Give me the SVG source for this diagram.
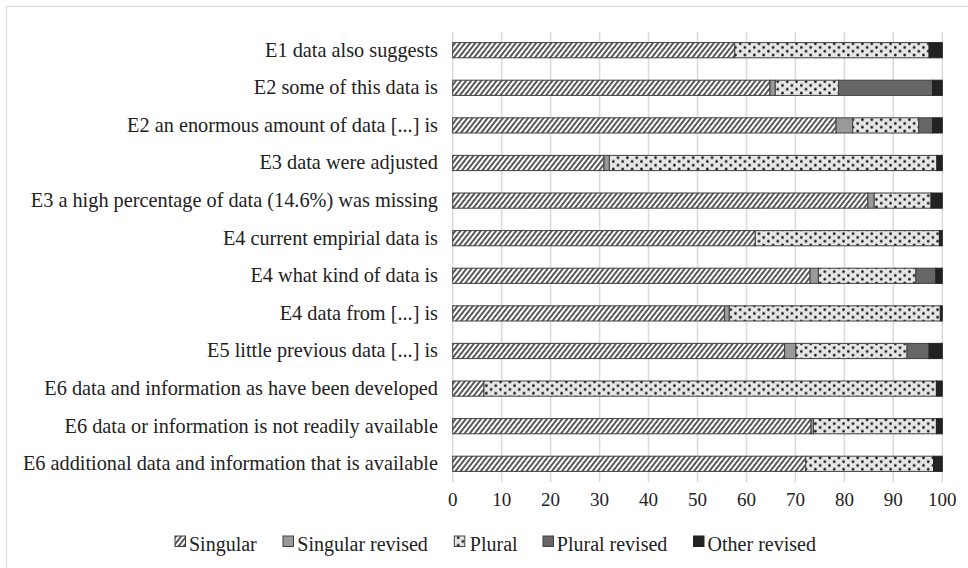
<svg xmlns="http://www.w3.org/2000/svg" width="968" height="568" viewBox="0 0 968 568">
<style>
text{font-family:"Liberation Serif","Times New Roman",serif;fill:#222;}
.lbl{font-size:20.3px;text-anchor:end;}
.ax{font-size:19px;text-anchor:middle;}
.lg{font-size:20px;}
.grid line{stroke:#d9d9d9;stroke-width:1.5;}
.s{fill:url(#hatch);stroke:#404040;stroke-width:1;}
.sr{fill:#999;stroke:#404040;stroke-width:1;}
.p{fill:url(#dots);stroke:#404040;stroke-width:1;}
.pr{fill:#666;stroke:#404040;stroke-width:1;}
.o{fill:#222;stroke:#222;stroke-width:1;}
</style>
<defs>
<pattern id="hatch" patternUnits="userSpaceOnUse" width="4" height="8" patternTransform="rotate(38)">
<rect width="4" height="8" fill="#fff"/>
<line x1="1" y1="0" x2="1" y2="8" stroke="#111" stroke-width="1.4"/>
</pattern>
<pattern id="dots" patternUnits="userSpaceOnUse" width="9.4" height="7.6">
<rect width="9.4" height="7.6" fill="#e6e6e6"/>
<circle cx="2.3" cy="1.9" r="1.35" fill="#111"/>
<circle cx="7.0" cy="5.7" r="1.35" fill="#111"/>
</pattern>
</defs>
<rect x="0" y="0" width="968" height="568" fill="#fff"/>
<rect x="6.5" y="6.5" width="1000" height="600" fill="none" stroke="#e0e0e0" stroke-width="1.3"/>
<g class="grid">
<line x1="452.7" y1="32" x2="452.7" y2="482"/>
<line x1="501.7" y1="32" x2="501.7" y2="482"/>
<line x1="550.6" y1="32" x2="550.6" y2="482"/>
<line x1="599.6" y1="32" x2="599.6" y2="482"/>
<line x1="648.5" y1="32" x2="648.5" y2="482"/>
<line x1="697.5" y1="32" x2="697.5" y2="482"/>
<line x1="746.5" y1="32" x2="746.5" y2="482"/>
<line x1="795.4" y1="32" x2="795.4" y2="482"/>
<line x1="844.4" y1="32" x2="844.4" y2="482"/>
<line x1="893.3" y1="32" x2="893.3" y2="482"/>
<line x1="942.3" y1="32" x2="942.3" y2="482"/>
</g>
<g id="axis">
<text class="ax" x="452.7" y="506">0</text>
<text class="ax" x="501.7" y="506">10</text>
<text class="ax" x="550.6" y="506">20</text>
<text class="ax" x="599.6" y="506">30</text>
<text class="ax" x="648.5" y="506">40</text>
<text class="ax" x="697.5" y="506">50</text>
<text class="ax" x="746.5" y="506">60</text>
<text class="ax" x="795.4" y="506">70</text>
<text class="ax" x="844.4" y="506">80</text>
<text class="ax" x="893.3" y="506">90</text>
<text class="ax" x="942.3" y="506">100</text>
</g>
<g id="row1">
<text class="lbl" x="438" y="56.6">E1 data also suggests</text>
<rect class="s" x="452.7" y="42.6" width="282" height="15.2"/>
<rect class="p" x="734.7" y="42.6" width="194.4" height="15.2"/>
<rect class="o" x="929.1" y="42.6" width="13.2" height="15.2"/>
</g>
<g id="row2">
<text class="lbl" x="438" y="94.2">E2 some of this data is</text>
<rect class="s" x="452.7" y="80.2" width="317.3" height="15.2"/>
<rect class="sr" x="770" y="80.2" width="5.3" height="15.2"/>
<rect class="p" x="775.3" y="80.2" width="63.2" height="15.2"/>
<rect class="pr" x="838.5" y="80.2" width="94" height="15.2"/>
<rect class="o" x="932.5" y="80.2" width="9.8" height="15.2"/>
</g>
<g id="row3">
<text class="lbl" x="438" y="131.8">E2 an enormous amount of data [...] is</text>
<rect class="s" x="452.7" y="117.8" width="383.4" height="15.2"/>
<rect class="sr" x="836.1" y="117.8" width="16.6" height="15.2"/>
<rect class="p" x="852.7" y="117.8" width="66.1" height="15.2"/>
<rect class="pr" x="918.8" y="117.8" width="13.7" height="15.2"/>
<rect class="o" x="932.5" y="117.8" width="9.8" height="15.2"/>
</g>
<g id="row4">
<text class="lbl" x="438" y="169.4">E3 data were adjusted</text>
<rect class="s" x="452.7" y="155.4" width="151.3" height="15.2"/>
<rect class="sr" x="604" y="155.4" width="5.4" height="15.2"/>
<rect class="p" x="609.4" y="155.4" width="327.5" height="15.2"/>
<rect class="o" x="936.9" y="155.4" width="5.4" height="15.2"/>
</g>
<g id="row5">
<text class="lbl" x="438" y="207">E3 a high percentage of data (14.6%) was missing</text>
<rect class="s" x="452.7" y="193" width="415.2" height="15.2"/>
<rect class="sr" x="867.9" y="193" width="6.3" height="15.2"/>
<rect class="p" x="874.2" y="193" width="56.8" height="15.2"/>
<rect class="o" x="931" y="193" width="11.3" height="15.2"/>
</g>
<g id="row6">
<text class="lbl" x="438" y="244.6">E4 current empirial data is</text>
<rect class="s" x="452.7" y="230.6" width="302.6" height="15.2"/>
<rect class="p" x="755.3" y="230.6" width="184.1" height="15.2"/>
<rect class="o" x="939.4" y="230.6" width="2.9" height="15.2"/>
</g>
<g id="row7">
<text class="lbl" x="438" y="282.2">E4 what kind of data is</text>
<rect class="s" x="452.7" y="268.2" width="357.4" height="15.2"/>
<rect class="sr" x="810.1" y="268.2" width="8.3" height="15.2"/>
<rect class="p" x="818.4" y="268.2" width="97.5" height="15.2"/>
<rect class="pr" x="915.9" y="268.2" width="20" height="15.2"/>
<rect class="o" x="935.9" y="268.2" width="6.4" height="15.2"/>
</g>
<g id="row8">
<text class="lbl" x="438" y="319.8">E4 data from [...] is</text>
<rect class="s" x="452.7" y="305.8" width="271.7" height="15.2"/>
<rect class="sr" x="724.4" y="305.8" width="4.9" height="15.2"/>
<rect class="p" x="729.3" y="305.8" width="211" height="15.2"/>
<rect class="o" x="940.3" y="305.8" width="2" height="15.2"/>
</g>
<g id="row9">
<text class="lbl" x="438" y="357.4">E5 little previous data [...] is</text>
<rect class="s" x="452.7" y="343.4" width="331.9" height="15.2"/>
<rect class="sr" x="784.6" y="343.4" width="11.3" height="15.2"/>
<rect class="p" x="795.9" y="343.4" width="111.1" height="15.2"/>
<rect class="pr" x="907" y="343.4" width="22.1" height="15.2"/>
<rect class="o" x="929.1" y="343.4" width="13.2" height="15.2"/>
</g>
<g id="row10">
<text class="lbl" x="438" y="395">E6 data and information as have been developed</text>
<rect class="s" x="452.7" y="381" width="31.3" height="15.2"/>
<rect class="p" x="484" y="381" width="452.4" height="15.2"/>
<rect class="o" x="936.4" y="381" width="5.9" height="15.2"/>
</g>
<g id="row11">
<text class="lbl" x="438" y="432.6">E6 data or information is not readily available</text>
<rect class="s" x="452.7" y="418.6" width="358.4" height="15.2"/>
<rect class="sr" x="811.1" y="418.6" width="2.4" height="15.2"/>
<rect class="p" x="813.5" y="418.6" width="122.9" height="15.2"/>
<rect class="o" x="936.4" y="418.6" width="5.9" height="15.2"/>
</g>
<g id="row12">
<text class="lbl" x="438" y="470.2">E6 additional data and information that is available</text>
<rect class="s" x="452.7" y="456.2" width="353" height="15.2"/>
<rect class="p" x="805.7" y="456.2" width="127.8" height="15.2"/>
<rect class="o" x="933.5" y="456.2" width="8.8" height="15.2"/>
</g>
<g id="legend">
<rect class="s" x="175" y="536" width="10.5" height="10.5"/>
<text class="lg" x="189" y="551">Singular</text>
<rect class="sr" x="283" y="536" width="10.5" height="10.5"/>
<text class="lg" x="297.3" y="551">Singular revised</text>
<rect class="p" x="454.3" y="536" width="10.5" height="10.5"/>
<text class="lg" x="469.8" y="551">Plural</text>
<rect class="pr" x="543" y="536" width="10.5" height="10.5"/>
<text class="lg" x="556.8" y="551">Plural revised</text>
<rect class="o" x="693.5" y="536" width="10.5" height="10.5"/>
<text class="lg" x="707.6" y="551">Other revised</text>
</g>
</svg>
